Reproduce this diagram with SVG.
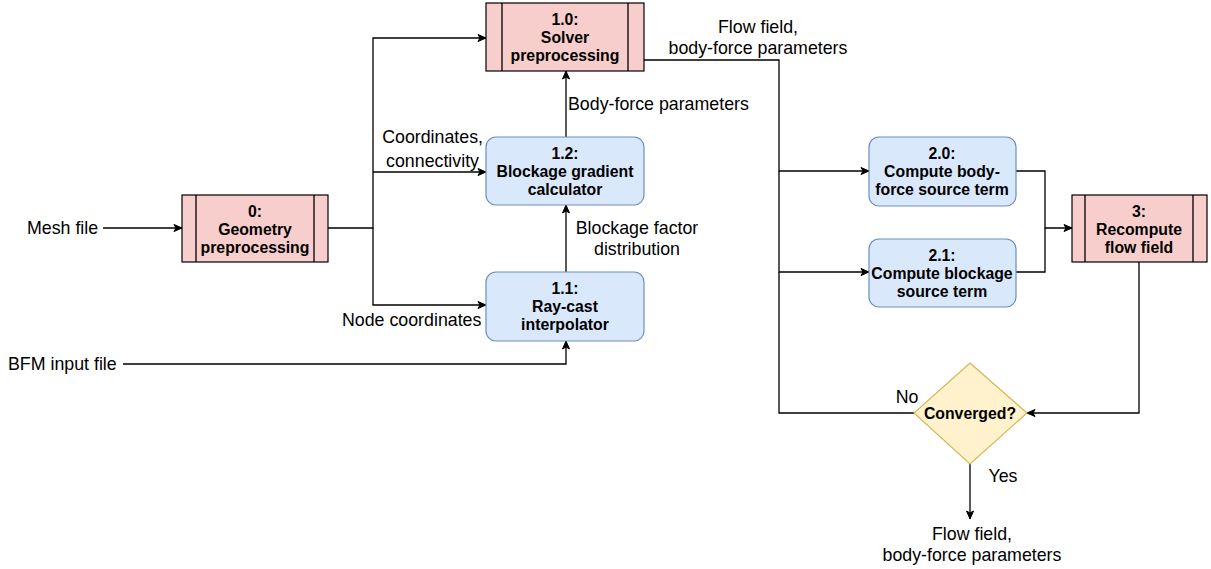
<svg xmlns="http://www.w3.org/2000/svg" width="1211" height="569" viewBox="0 0 1211 569">
<defs>
<marker id="arr" markerWidth="10" markerHeight="10" refX="9" refY="5" orient="auto" markerUnits="userSpaceOnUse">
<path d="M1,1.5 L9,5 L1,8.5 L3,5 Z" fill="#000" stroke="#000" stroke-width="1"/>
</marker>
<style>
.red{fill:#f8cecc;stroke:#000;stroke-width:1.2}
.blue{fill:#dae8fc;stroke:#6c8ebf;stroke-width:1.2}
.dia{fill:#fff2cc;stroke:#d6b656;stroke-width:1.2}
.nt{font-family:"Liberation Sans",Arial,sans-serif;font-weight:bold;font-size:15.8px;fill:#000;text-anchor:middle}
.lb{font-family:"Liberation Sans",Arial,sans-serif;font-size:17.8px;fill:#000}
.c{fill:none;stroke:#000;stroke-width:1.3}
</style>
</defs>
<rect width="1211" height="569" fill="#fff"/>
<g id="connectors">
<path class="c" d="M103,228 H182" marker-end="url(#arr)"/>
<path class="c" d="M328,228 H373 V38 H486" marker-end="url(#arr)"/>
<path class="c" d="M373,172 H486" marker-end="url(#arr)"/>
<path class="c" d="M373,228 V305 H486" marker-end="url(#arr)"/>
<path class="c" d="M123,364 H566 V341" marker-end="url(#arr)"/>
<path class="c" d="M566,272 V205" marker-end="url(#arr)"/>
<path class="c" d="M566,137 V71" marker-end="url(#arr)"/>
<path class="c" d="M644,60 H779 V171 H869" marker-end="url(#arr)"/>
<path class="c" d="M779,171 V272 H869" marker-end="url(#arr)"/>
<path class="c" d="M779,272 V413 H914"/>
<path class="c" d="M1016,171 H1045 V228 H1072" marker-end="url(#arr)"/>
<path class="c" d="M1016,272 H1045 V228"/>
<path class="c" d="M1139,262 V413 H1027" marker-end="url(#arr)"/>
<path class="c" d="M970,464 V519" marker-end="url(#arr)"/>
</g>
<g id="labels">
<text class="lb" x="27" y="234">Mesh file</text>
<text class="lb" x="8" y="370">BFM input file</text>
<text class="lb" x="483" y="143" text-anchor="end">Coordinates,</text>
<text class="lb" x="479" y="167" text-anchor="end">connectivity</text>
<text class="lb" x="342" y="326">Node coordinates</text>
<text class="lb" x="637" y="234" text-anchor="middle">Blockage factor</text>
<text class="lb" x="637" y="255" text-anchor="middle">distribution</text>
<text class="lb" x="568" y="110">Body-force parameters</text>
<text class="lb" x="758" y="33" text-anchor="middle">Flow field,</text>
<text class="lb" x="758" y="54" text-anchor="middle">body-force parameters</text>
<text class="lb" x="907" y="403" text-anchor="middle">No</text>
<text class="lb" x="1003" y="482" text-anchor="middle">Yes</text>
<text class="lb" x="972" y="540" text-anchor="middle">Flow field,</text>
<text class="lb" x="972" y="561" text-anchor="middle">body-force parameters</text>
</g>
<g id="node0">
<rect class="red" x="182" y="195" width="146" height="67"/>
<path class="c" d="M196,195 V262 M314,195 V262" stroke-width="1.2"/>
<text class="nt" x="255" y="217">0:</text>
<text class="nt" x="255" y="235">Geometry</text>
<text class="nt" x="255" y="253">preprocessing</text>
</g>
<g id="node1_0">
<rect class="red" x="486" y="3" width="158" height="68"/>
<path class="c" d="M502,3 V71 M628,3 V71" stroke-width="1.2"/>
<text class="nt" x="565" y="25">1.0:</text>
<text class="nt" x="565" y="43">Solver</text>
<text class="nt" x="565" y="61">preprocessing</text>
</g>
<g id="node1_2">
<rect class="blue" x="486" y="137" width="158" height="68" rx="10"/>
<text class="nt" x="565" y="159">1.2:</text>
<text class="nt" x="565" y="177">Blockage gradient</text>
<text class="nt" x="565" y="195">calculator</text>
</g>
<g id="node1_1">
<rect class="blue" x="486" y="272" width="158" height="69" rx="10"/>
<text class="nt" x="565" y="294">1.1:</text>
<text class="nt" x="565" y="312">Ray-cast</text>
<text class="nt" x="565" y="330">interpolator</text>
</g>
<g id="node2_0">
<rect class="blue" x="869" y="137" width="147" height="69" rx="10"/>
<text class="nt" x="942" y="159">2.0:</text>
<text class="nt" x="942" y="177">Compute body-</text>
<text class="nt" x="942" y="195">force source term</text>
</g>
<g id="node2_1">
<rect class="blue" x="869" y="239" width="147" height="68" rx="10"/>
<text class="nt" x="942" y="261">2.1:</text>
<text class="nt" x="942" y="279">Compute blockage</text>
<text class="nt" x="942" y="297">source term</text>
</g>
<g id="node3">
<rect class="red" x="1072" y="195" width="135" height="67"/>
<path class="c" d="M1085,195 V262 M1193,195 V262" stroke-width="1.2"/>
<text class="nt" x="1139" y="217">3:</text>
<text class="nt" x="1139" y="235">Recompute</text>
<text class="nt" x="1139" y="253">flow field</text>
</g>
<g id="converged">
<path class="dia" d="M970,363 L1027,413 L970,464 L914,413 Z"/>
<text class="nt" x="970" y="419">Converged?</text>
</g>
</svg>
